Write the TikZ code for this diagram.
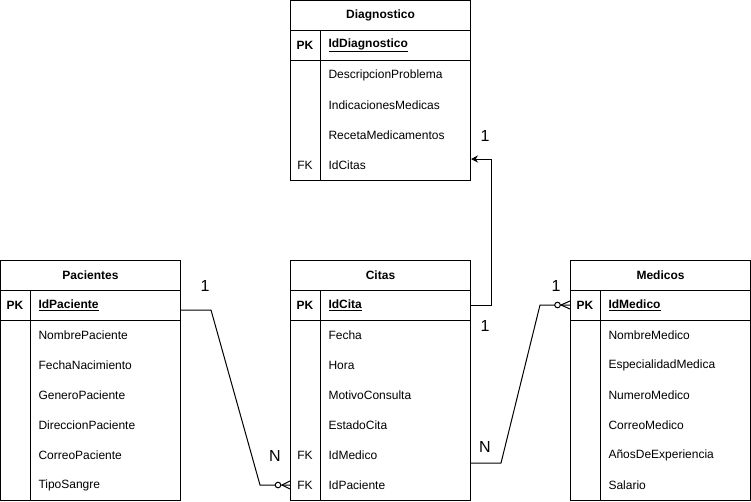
\documentclass[tikz,border=0pt]{standalone}
\usepackage{fontspec}
\setmainfont{Liberation Sans}
\usetikzlibrary{calc}
\usetikzlibrary{arrows.meta}
\tikzset{ tbl_head/.style = {draw, font=\bfseries\fontsize{12}{14}\selectfont, minimum width=180pt, minimum height=30pt, inner sep=0pt, anchor=north west} }
\tikzset{ tbl_key/.style = {font=\bfseries\fontsize{12}{14}\selectfont, inner sep=0pt} }
\tikzset{ tbl_fk/.style = {font=\fontsize{12}{14}\selectfont, inner sep=0pt} }
\tikzset{ tbl_field/.style = {font=\fontsize{12}{14}\selectfont, anchor=west, text width=134pt, inner xsep=8pt, inner ysep=0pt, minimum height=30pt, align=left} }
\tikzset{ tbl_pk/.style = {tbl_field, font=\bfseries\fontsize{12}{14}\selectfont} }
\tikzset{ card/.style = {font=\fontsize{16}{18}\selectfont, inner sep=0pt} }
\tikzset{ zero_many/.style = {fill=white} }

\begin{document}
\begin{tikzpicture}[x=1pt,y=-1pt,line width=1pt]
    \useasboundingbox (0,0) rectangle (751,501);
    % Diagnostico
    \node [style=tbl_head] (diag) at (290,0) {Diagnostico};
    \draw (290,30) rectangle (470,180);
    \draw (290,60) -- (470,60);
    \draw (320,30) -- (320,180);
    \node [style=tbl_key] (diag_pkk) at (305,45) {PK};
    \node [style=tbl_pk] (diag_pk) at (320,45) {\underline{IdDiagnostico}};
    \foreach \f [count=\i] in {DescripcionProblema,IndicacionesMedicas,RecetaMedicamentos,IdCitas}
        \node [style=tbl_field] (diag_\i) at (320,45+30*\i) {\f};
    \node [style=tbl_fk] (diag_fk) at (305,165) {FK};
    % Pacientes
    \node [style=tbl_head] (pac) at (0,260) {Pacientes};
    \draw (0,290) rectangle (180,500);
    \draw (0,320) -- (180,320);
    \draw (30,290) -- (30,500);
    \node [style=tbl_key] (pac_pkk) at (15,305) {PK};
    \node [style=tbl_pk] (pac_pk) at (30,305) {\underline{IdPaciente}};
    \foreach \f [count=\i] in {NombrePaciente,FechaNacimiento,GeneroPaciente,DireccionPaciente,CorreoPaciente,TipoSangre}
        \node [style=tbl_field] (pac_\i) at (30,305+30*\i) {\f};
    % Citas
    \node [style=tbl_head] (cit) at (290,260) {Citas};
    \draw (290,290) rectangle (470,500);
    \draw (290,320) -- (470,320);
    \draw (320,290) -- (320,500);
    \node [style=tbl_key] (cit_pkk) at (305,305) {PK};
    \node [style=tbl_pk] (cit_pk) at (320,305) {\underline{IdCita}};
    \foreach \f [count=\i] in {Fecha,Hora,MotivoConsulta,EstadoCita,IdMedico,IdPaciente}
        \node [style=tbl_field] (cit_\i) at (320,305+30*\i) {\f};
    \node [style=tbl_fk] (cit_fk1) at (305,455) {FK};
    \node [style=tbl_fk] (cit_fk2) at (305,485) {FK};
    % Medicos
    \node [style=tbl_head] (med) at (570,260) {Medicos};
    \draw (570,290) rectangle (750,500);
    \draw (570,320) -- (750,320);
    \draw (600,290) -- (600,500);
    \node [style=tbl_key] (med_pkk) at (585,305) {PK};
    \node [style=tbl_pk] (med_pk) at (600,305) {\underline{IdMedico}};
    \foreach \f [count=\i] in {NombreMedico,EspecialidadMedica,NumeroMedico,CorreoMedico,AñosDeExperiencia,Salario}
        \node [style=tbl_field] (med_\i) at (600,305+30*\i) {\f};

    % relations
    \coordinate (cit_in) at (cit_6 -| cit.west);
    \coordinate (med_in) at (med_pk -| med.west);
    \draw ($(pac_pk.east)+(0,5)$) -- ++(30,0) -- ($(cit_in)+(-30,0)$) -- (cit_in);
    \draw ($(cit_in)+(-8,0)$) -- ($(cit_in)+(0,-4)$) ($(cit_in)+(-8,0)$) -- ($(cit_in)+(0,4)$);
    \draw [style=zero_many] ($(cit_in)+(-12,0)$) circle (2.8pt);
    \draw ($(cit_5.east)+(0,8)$) -- ++(30,0) -- ($(med_in)+(-30,0)$) -- (med_in);
    \draw ($(med_in)+(-9,0)$) -- ($(med_in)+(0,-4)$) ($(med_in)+(-9,0)$) -- ($(med_in)+(0,4)$);
    \draw [style=zero_many] ($(med_in)+(-12.5,0)$) circle (2.8pt);
    \draw [-{Stealth[length=7pt,width=7pt]}] (cit_pk.east) -- ++(20,0) |- ($(diag_4.east)+(0,-6)$);

    \node [style=card] (c1) at (205,286) {1};
    \node [style=card] (c2) at (275,456) {N};
    \node [style=card] (c3) at (485,136) {1};
    \node [style=card] (c4) at (485,326) {1};
    \node [style=card] (c5) at (556,286) {1};
    \node [style=card] (c6) at (485,447) {N};
\end{tikzpicture}
\end{document}
